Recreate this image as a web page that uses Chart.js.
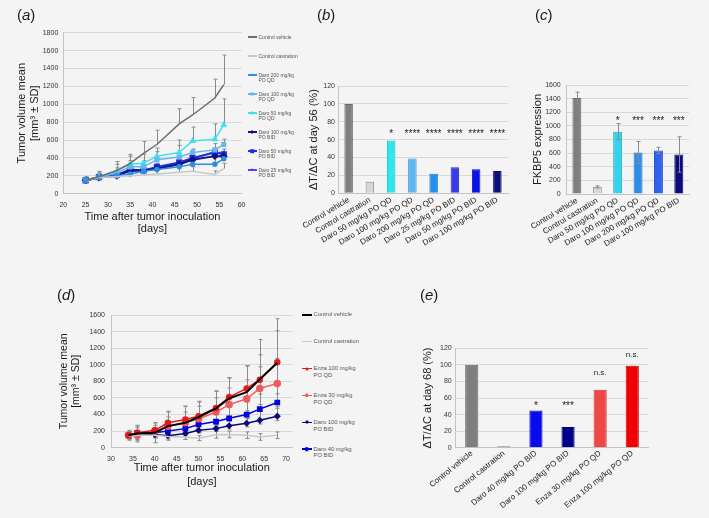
<!DOCTYPE html>
<html>
<head>
<meta charset="utf-8">
<script src="https://cdn.jsdelivr.net/npm/chart.js@4.4.1/dist/chart.umd.min.js"></script>
<style>
  body { margin: 0; background: #f4f4f4; font-family: "Liberation Sans", Arial, sans-serif; }
  #fig { position: relative; width: 709px; height: 518px; overflow: hidden; }
  canvas { position: absolute; }
  .tag { position: absolute; font-size: 15px; line-height: 15px; color: #1a1a1a; }
  .lg { position: absolute; display: flex; align-items: flex-start; white-space: nowrap; color: #555; }
  .sw { position: relative; display: block; flex: none; }
  .sw i { position: absolute; left: 50%; top: 50%; transform: translate(-50%, -50%); }
</style>
</head>
<body>
<div id="fig">
  <canvas id="chA" width="250" height="222" style="left:0;top:20px"></canvas>
  <canvas id="chB" width="272" height="190" style="left:240px;top:70px"></canvas>
  <canvas id="chC" width="204" height="190" style="left:505px;top:70px"></canvas>
  <canvas id="chD" width="250" height="190" style="left:50px;top:300px"></canvas>
  <canvas id="chE" width="262" height="183" style="left:395px;top:335px"></canvas>
  <div class="tag" style="left:17px;top:7px">(<i>a</i>)</div>
  <div class="tag" style="left:317px;top:7px">(<i>b</i>)</div>
  <div class="tag" style="left:535px;top:7px">(<i>c</i>)</div>
  <div class="tag" style="left:57px;top:287px">(<i>d</i>)</div>
  <div class="tag" style="left:420px;top:287px">(<i>e</i>)</div>
</div>
<script>
// ---- panel (a): tumour growth, darolutamide doses ----
const daysA = [25, 28, 32, 35, 38, 41, 46, 49, 54, 56]
const vehicleA = [150, 190, 260, 340, 450, 550, 780, 880, 1070, 1220]
const vehicleSdA = [40, 60, 100, 100, 135, 160, 170, 195, 210, 330]
const castrationA = [150, 180, 190, 200, 210, 220, 240, 250, 215, 280]
const castrationSdA = [20, 30, 30, 30, 40, 40, 50, 50, 40, 60]
const daro200qdA = [145, 180, 200, 220, 250, 270, 300, 330, 330, 390]
const daro200qdSdA = [30, 40, 50, 50, 60, 70, 80, 80, 90, 110]
const daro100qdA = [150, 185, 230, 300, 300, 380, 410, 460, 490, 550]
const daro100qdSdA = [30, 40, 60, 70, 70, 90, 130, 40, 70, 60]
const daro50qdA = [150, 190, 250, 330, 340, 420, 460, 590, 610, 770]
const daro50qdSdA = [30, 50, 80, 90, 100, 90, 140, 155, 170, 290]
const daro100bidA = [150, 180, 200, 260, 260, 280, 330, 380, 420, 420]
const daro50bidA = [150, 185, 210, 270, 260, 300, 350, 400, 460, 440]
const daro25bidA = [145, 180, 200, 250, 260, 290, 340, 390, 470, 450]

// ---- panel (b): dT/dC at day 56 ----
const groupsB = ['Control vehicle', 'Control castration', 'Daro 50 mg/kg PO QD', 'Daro 100 mg/kg PO QD',
  'Daro 200 mg/kg PO QD', 'Daro 25 mg/kg PO BID', 'Daro 50 mg/kg PO BID', 'Daro 100 mg/kg PO BID']
const ratioB = [100, 13, 59, 39, 22, 29, 27, 25]
const sigB = ['', '', '*', '****', '****', '****', '****', '****']

// ---- panel (c): FKBP5 expression ----
const groupsC = ['Control vehicle', 'Control castration', 'Daro 50 mg/kg PO QD', 'Daro 100 mg/kg PO QD',
  'Daro 200 mg/kg PO QD', 'Daro 100 mg/kg PO BID']
const fkbp5C = [1410, 105, 915, 610, 640, 580]
const fkbp5SdC = [85, 15, 120, 160, 45, 260]
const sigC = ['', '', '*', '***', '***', '***']

// ---- panel (d): tumour growth, enzalutamide vs darolutamide ----
const daysD = [34, 36, 40, 43, 47, 50, 54, 57, 61, 64, 68]
const vehicleD = [150, 170, 180, 260, 300, 370, 475, 595, 670, 825, 1025]
const vehicleSdD = [60, 100, 120, 170, 200, 190, 210, 250, 320, 480, 530]
const castrationD = [140, 150, 150, 135, 130, 115, 155, 160, 150, 130, 150]
const castrationSdD = [20, 30, 30, 30, 30, 30, 40, 40, 40, 40, 40]
const enza100D = [150, 180, 210, 300, 340, 380, 480, 610, 715, 820, 1030]
const enza100SdD = [50, 80, 90, 140, 160, 170, 200, 230, 270, 300, 380]
const enza30D = [150, 150, 200, 260, 300, 350, 430, 520, 590, 715, 775]
const enza30SdD = [40, 60, 70, 110, 130, 150, 170, 200, 230, 260, 300]
const daro100bidD = [150, 170, 160, 145, 170, 210, 230, 265, 295, 330, 380]
const daro40bidD = [150, 180, 180, 200, 230, 280, 315, 355, 400, 465, 545]
const daro40bidSdD = [40, 60, 60, 70, 80, 100, 110, 130, 150, 180, 220]

// ---- panel (e): dT/dC at day 68 ----
const groupsE = ['Control vehicle', 'Control castration', 'Daro 40 mg/kg PO BID', 'Daro 100 mg/kg PO BID',
  'Enza 30 mg/kg PO QD', 'Enza 100 mg/kg PO QD']
const ratioE = [100, 0.5, 45, 25, 70, 99]
const sigE = ['', '', '*', '***', 'n.s.', 'n.s.']
const sigAtE = [null, null, 52, 52, 90, 112]

const FONT = '"Liberation Sans", Arial, sans-serif'
Chart.defaults.font.family = FONT
Chart.defaults.color = '#333'

const pts = (xs, ys) => xs.map((x, i) => ({ x: x, y: ys[i] }))
const plain = v => String(v)

// vertical SD bars, read from a dataset's "sd" array
const errorBars = {
  id: 'errorBars',
  draw(chart, upOnly) {
    const ctx = chart.ctx
    const y = chart.scales.y
    ctx.save()
    ctx.strokeStyle = '#8a8a8a'
    ctx.lineWidth = 1
    chart.data.datasets.forEach((ds, i) => {
      if (!ds.sd) return
      chart.getDatasetMeta(i).data.forEach((el, j) => {
        const raw = ds.data[j]
        const v = typeof raw === 'object' ? raw.y : raw
        const sd = ds.sd[j]
        const x = Math.round(el.x) + 0.5
        const top = y.getPixelForValue(v + sd)
        const bot = upOnly ? y.getPixelForValue(v) : y.getPixelForValue(Math.max(v - sd, 0))
        ctx.beginPath()
        ctx.moveTo(x, top); ctx.lineTo(x, bot)
        ctx.moveTo(x - 2, top); ctx.lineTo(x + 2, top)
        if (!upOnly) { ctx.moveTo(x - 2, bot); ctx.lineTo(x + 2, bot) }
        ctx.stroke()
      })
    })
    ctx.restore()
  },
  beforeDatasetsDraw(chart, args, opts) { if (!opts.front) this.draw(chart, opts.upOnly) },
  afterDatasetsDraw(chart, args, opts) { if (opts.front) this.draw(chart, opts.upOnly) },
}

// significance marks above bars
const sigMarks = {
  id: 'sigMarks',
  afterDatasetsDraw(chart, args, opts) {
    if (!opts.text) return
    const ctx = chart.ctx
    ctx.save()
    ctx.fillStyle = '#222'
    ctx.textAlign = 'center'
    ctx.textBaseline = 'middle'
    opts.text.forEach((t, i) => {
      if (!t) return
      const at = Array.isArray(opts.at) ? opts.at[i] : opts.at
      const star = t[0] === '*'
      ctx.font = (star ? 10 : 8) + 'px ' + FONT
      ctx.fillText(t, chart.scales.x.getPixelForValue(i), chart.scales.y.getPixelForValue(at) + (star ? 2 : 0))
    })
    ctx.restore()
  },
}

function lineChart(id, datasets, c) {
  return new Chart(document.getElementById(id), {
    type: 'line',
    data: { datasets: datasets },
    plugins: [errorBars],
    options: {
      responsive: false,
      animation: false,
      layout: { padding: { left: c.padL, right: c.padR, top: c.padT, bottom: 0 } },
      elements: { line: { tension: 0 } },
      plugins: { legend: { display: false }, tooltip: { enabled: false }, errorBars: { front: false, upOnly: c.upOnly } },
      scales: {
        x: {
          type: 'linear', min: c.xmin, max: c.xmax,
          ticks: { stepSize: 5, includeBounds: false, font: { size: 7 }, padding: 7, callback: plain },
          afterBuildTicks: s => { s.ticks = s.ticks.filter(t => t.value % 5 === 0) },
          grid: { display: false, drawTicks: false },
          border: { color: '#c4c4c4' },
          title: {
            display: true, text: ['Time after tumor inoculation', '[days]'], color: '#1a1a1a',
            font: { size: 11, lineHeight: c.lh }, padding: { top: 0, bottom: c.xtPad },
          },
          afterFit: s => { s.height = c.xh; s.paddingLeft = 0; s.paddingRight = 0 },
        },
        y: {
          min: 0, max: c.ymax,
          ticks: { stepSize: 200, font: { size: 7 }, padding: c.ytPad, callback: plain },
          grid: { color: '#d9d9d9', drawTicks: false },
          border: { color: '#c4c4c4' },
          title: {
            display: true, text: ['Tumor volume mean', '[mm³ ± SD]'], color: '#1a1a1a',
            font: { size: c.yFont, lineHeight: 1.15 }, padding: 0,
          },
          afterFit: s => { s.width = c.yw; s.paddingTop = 0; s.paddingBottom = 0 },
        },
      },
    },
  })
}

function barChart(id, labels, values, colors, borders, c) {
  return new Chart(document.getElementById(id), {
    type: 'bar',
    data: {
      labels: labels,
      datasets: [{ data: values, sd: c.sd, backgroundColor: colors, borderColor: borders, borderWidth: 1,
        minBarLength: 1.5, categoryPercentage: 1, barPercentage: c.bp }],
    },
    plugins: c.sd ? [errorBars, sigMarks] : [sigMarks],
    options: {
      responsive: false,
      animation: false,
      layout: { padding: { left: c.padL, right: c.padR, top: c.padT, bottom: 0 } },
      plugins: {
        legend: { display: false }, tooltip: { enabled: false },
        errorBars: { front: true },
        sigMarks: { text: c.sig, at: c.sigAt },
      },
      scales: {
        x: {
          grid: { display: false, drawTicks: false },
          border: { color: '#c4c4c4' },
          ticks: { autoSkip: false, minRotation: c.rot, maxRotation: c.rot, font: { size: 8 }, padding: c.xtPad, color: '#222' },
          afterFit: s => { s.height = c.xh; s.paddingLeft = 0; s.paddingRight = 0 },
        },
        y: {
          min: 0, max: c.ymax,
          ticks: { stepSize: c.step, font: { size: 7 }, padding: c.ytPad, callback: plain },
          grid: { color: '#d9d9d9', drawTicks: false },
          border: { color: '#c4c4c4' },
          title: { display: true, text: c.title, color: '#1a1a1a', font: { size: 11, lineHeight: 1.15 }, padding: 0 },
          afterFit: s => { s.width = c.yw; s.paddingTop = 0; s.paddingBottom = 0 },
        },
      },
    },
  })
}

// legend rows beside the line charts
function addLegend(chart, left, centers, size, lineH) {
  const fig = document.getElementById('fig')
  chart.data.datasets.forEach((ds, i) => {
    const lines = ds.label.indexOf(' PO ') > 0 ? ds.label.split(' PO ').map((t, k) => k ? 'PO ' + t : t) : [ds.label]
    const row = document.createElement('div')
    row.className = 'lg'
    row.style.left = left + 'px'
    row.style.top = (centers[i] - lineH / 2) + 'px'
    row.style.fontSize = size + 'px'
    row.style.lineHeight = lineH + 'px'
    const sw = document.createElement('span')
    sw.className = 'sw'
    const w = ds.borderWidth || 1.5
    sw.style.cssText = `width:${size * 1.7}px;height:${w}px;background:${ds.borderColor};margin-top:${(lineH - w) / 2}px;margin-right:2px`
    if (ds.pointRadius) {
      const m = document.createElement('i')
      const r = ds.pointRadius * 1.2
      let css = `width:${r}px;height:${r}px;background:${ds.borderColor};`
      if (ds.pointStyle === 'circle') css += 'border-radius:50%;'
      if (ds.pointStyle === 'rectRot' || ds.pointStyle === 'triangle') css += 'transform:translate(-50%,-50%) rotate(45deg);'
      m.style.cssText = css
      sw.appendChild(m)
    }
    const tx = document.createElement('span')
    tx.innerHTML = lines.join('<br>')
    row.appendChild(sw)
    row.appendChild(tx)
    fig.appendChild(row)
  })
}

const lineDs = (label, xs, ys, color, extra) => Object.assign({
  label: label, data: pts(xs, ys), borderColor: color, backgroundColor: color,
  pointBackgroundColor: color, pointBorderColor: color, borderWidth: 1.5, pointRadius: 0,
}, extra || {})

const chartA = lineChart('chA', [
  lineDs('Control vehicle', daysA, vehicleA, '#6e6e6e', { sd: vehicleSdA }),
  lineDs('Control castration', daysA, castrationA, '#c8c8c8', { sd: castrationSdA }),
  lineDs('Daro 200 mg/kg PO QD', daysA, daro200qdA, '#2e8ee0', { sd: daro200qdSdA, pointStyle: 'circle', pointRadius: 2 }),
  lineDs('Daro 100 mg/kg PO QD', daysA, daro100qdA, '#66b6ee', { sd: daro100qdSdA, pointStyle: 'rect', pointRadius: 2.5 }),
  lineDs('Daro 50 mg/kg PO QD', daysA, daro50qdA, '#38e4ee', { sd: daro50qdSdA, pointStyle: 'triangle', pointRadius: 2.5 }),
  lineDs('Daro 100 mg/kg PO BID', daysA, daro100bidA, '#141480', { pointStyle: 'rectRot', pointRadius: 2.5, borderWidth: 2 }),
  lineDs('Daro 50 mg/kg PO BID', daysA, daro50bidA, '#1c30e8', { pointStyle: 'rect', pointRadius: 3, borderWidth: 2 }),
  lineDs('Daro 25 mg/kg PO BID', daysA, daro25bidA, '#4848f0', { pointStyle: 'triangle', pointRadius: 2 }),
], { padL: 16, padR: 8.4, padT: 12.7, xh: 48.3, yw: 47.3, xmin: 20, xmax: 60, ymax: 1800, lh: 1.15, xtPad: 6.3, ytPad: 5, yFont: 11, upOnly: true })
addLegend(chartA, 248, [37, 56, 75, 94, 113, 132, 151, 170], 5, 5)

barChart('chB', groupsB, ratioB,
  ['#7f7f7f', '#d6d6d6', '#2ee6f0', '#5cb8f0', '#2090f0', '#3a3ae8', '#0c12ea', '#0e0e7e'],
  ['#6a6a6a', '#8c8c8c', '#22b8c0', '#4a94c0', '#1a70c0', '#2e2eb8', '#0a0eb8', '#0a0a60'],
  { padL: 67.7, padR: 4, padT: 16, xh: 66.7, yw: 30.3, ymax: 120, step: 20, ytPad: 3, rot: 31, bp: 0.4, xtPad: 2,
    title: 'ΔT/ΔC at day 56 (%)', sig: sigB, sigAt: 68 })

barChart('chC', groupsC, fkbp5C,
  ['#7f7f7f', '#d6d6d6', '#34d2f0', '#2c8ee8', '#2f62f0', '#0a0a7e'],
  ['#6a6a6a', '#8c8c8c', '#28a8c0', '#2270b8', '#2450c0', '#080860'],
  { padL: 26.2, padR: 20, padT: 15, xh: 66, yw: 35.5, ymax: 1600, step: 200, ytPad: 6, rot: 31, bp: 0.44, xtPad: 2,
    title: 'FKBP5 expression', sig: sigC, sigAt: 1100, sd: fkbp5SdC })

const chartD = lineChart('chD', [
  lineDs('Control vehicle', daysD, vehicleD, '#000000', { sd: vehicleSdD, borderWidth: 2 }),
  lineDs('Control castration', daysD, castrationD, '#c8c8c8', { sd: castrationSdD }),
  lineDs('Enza 100 mg/kg PO QD', daysD, enza100D, '#e31a1c', { sd: enza100SdD, pointStyle: 'circle', pointRadius: 2.5 }),
  lineDs('Enza 30 mg/kg PO QD', daysD, enza30D, '#f05a5a', { sd: enza30SdD, pointStyle: 'circle', pointRadius: 3 }),
  lineDs('Daro 100 mg/kg PO BID', daysD, daro100bidD, '#0a0a78', { pointStyle: 'rectRot', pointRadius: 2.5 }),
  lineDs('Daro 40 mg/kg PO BID', daysD, daro40bidD, '#0000e0', { sd: daro40bidSdD, pointStyle: 'rect', pointRadius: 3 }),
], { padL: 8, padR: 7.4, padT: 15, xh: 42.3, yw: 53, xmin: 30, xmax: 71.5, ymax: 1600, lh: 1.2, xtPad: 1.9, ytPad: 6, yFont: 10.5, upOnly: false })
addLegend(chartD, 301.7, [314.7, 341.3, 368.7, 395.3, 422.3, 449], 5.8, 6.7)

barChart('chE', groupsE, ratioE,
  ['#7f7f7f', '#808080', '#0a0af0', '#00008c', '#f04646', '#f00000'],
  ['#6a6a6a', '#6a6a6a', '#0808c0', '#000070', '#c83838', '#c00000'],
  { padL: 26.7, padR: 8.7, padT: 13.3, xh: 70.3, yw: 34, ymax: 120, step: 20, ytPad: 4, rot: 39, bp: 0.41, xtPad: 1,
    title: 'ΔT/ΔC at day 68 (%)', sig: sigE, sigAt: sigAtE })
</script>
</body>
</html>
